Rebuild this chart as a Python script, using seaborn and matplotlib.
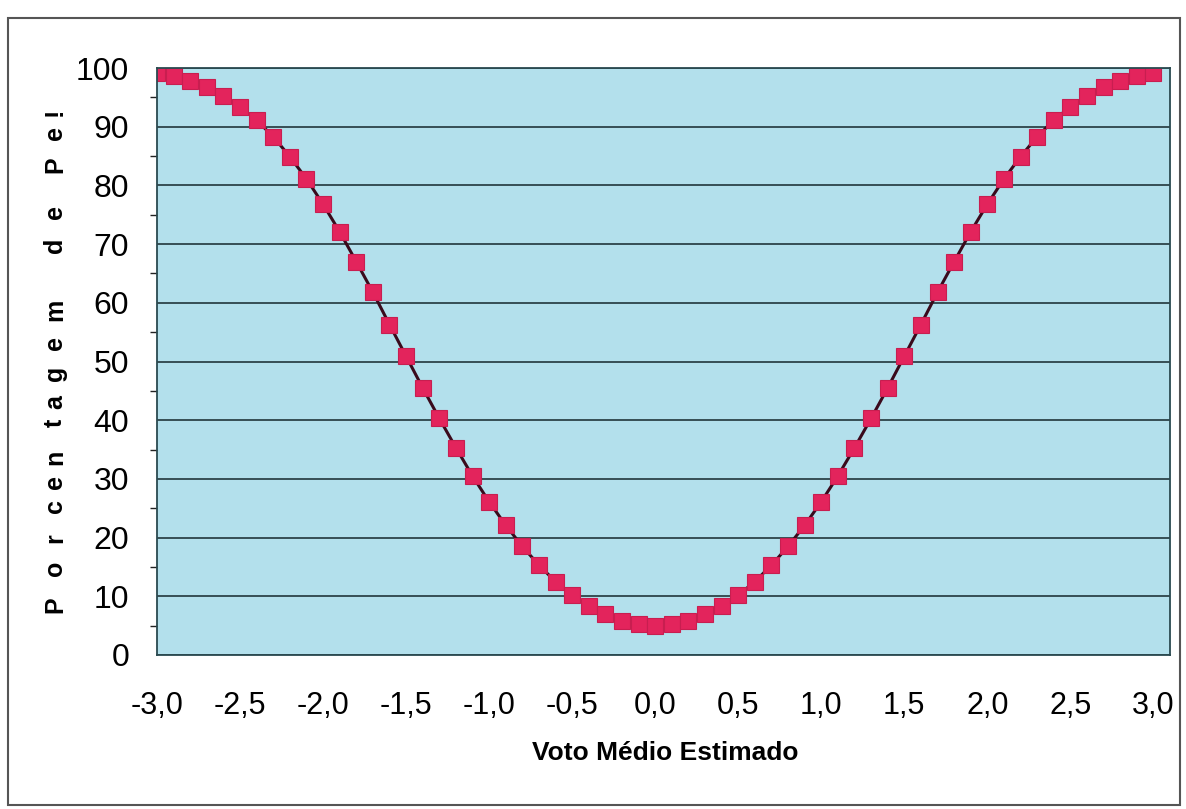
import matplotlib
matplotlib.use('Agg')
import matplotlib.pyplot as plt
import seaborn as sns
import numpy as np
import pandas as pd
from matplotlib.patches import Rectangle
from matplotlib.ticker import MultipleLocator

# voto medio estimado (PMV) e porcentagem de pessoas insatisfeitas (PPD)
voto = [-3.0, -2.9, -2.8, -2.7, -2.6, -2.5, -2.4, -2.3, -2.2, -2.1,
        -2.0, -1.9, -1.8, -1.7, -1.6, -1.5, -1.4, -1.3, -1.2, -1.1,
        -1.0, -0.9, -0.8, -0.7, -0.6, -0.5, -0.4, -0.3, -0.2, -0.1,
        0.0, 0.1, 0.2, 0.3, 0.4, 0.5, 0.6, 0.7, 0.8, 0.9,
        1.0, 1.1, 1.2, 1.3, 1.4, 1.5, 1.6, 1.7, 1.8, 1.9,
        2.0, 2.1, 2.2, 2.3, 2.4, 2.5, 2.6, 2.7, 2.8, 2.9, 3.0]
porcentagem = [99.1, 98.6, 97.8, 96.7, 95.3, 93.4, 91.1, 88.3, 84.9, 81.1,
               76.8, 72.1, 67.0, 61.8, 56.3, 50.9, 45.5, 40.3, 35.3, 30.5,
               26.1, 22.1, 18.5, 15.3, 12.5, 10.2, 8.3, 6.9, 5.8, 5.2,
               5.0, 5.2, 5.8, 6.9, 8.3, 10.2, 12.5, 15.3, 18.5, 22.1,
               26.1, 30.5, 35.3, 40.3, 45.5, 50.9, 56.3, 61.8, 67.0, 72.1,
               76.8, 81.1, 84.9, 88.3, 91.1, 93.4, 95.3, 96.7, 97.8, 98.6, 99.1]
xticks = [-3.0, -2.5, -2.0, -1.5, -1.0, -0.5, 0.0, 0.5, 1.0, 1.5, 2.0, 2.5, 3.0]
yticks = [0, 10, 20, 30, 40, 50, 60, 70, 80, 90, 100]
ylabel_letras = list('PorcentagemdePe!')

df = pd.DataFrame({'voto': voto, 'ppd': porcentagem})

sns.set_style('white')
plt.rcParams['font.family'] = ['Liberation Sans', 'DejaVu Sans']
plt.rcParams['text.color'] = 'black'

W, H = 1186, 809
fig = plt.figure(figsize=(W / 100, H / 100), dpi=100)
ax = fig.add_axes([157 / W, 1 - 655 / H, (1170 - 157) / W, (655 - 68) / H])

# moldura externa
fig.patches.append(Rectangle((8 / W, 1 - 805 / H), (1180 - 8) / W, (805 - 18) / H,
                             transform=fig.transFigure, fill=False,
                             edgecolor='#555555', linewidth=1.5))

ax.set_facecolor('#b3e0ec')
sns.lineplot(data=df, x='voto', y='ppd', ax=ax, color='#3a0a1c', linewidth=2.2,
             marker='s', markersize=11, markerfacecolor='#e3245c',
             markeredgecolor='#c81e50', markeredgewidth=0.8)

ax.set_xlim(-3.0, 3.1)
ax.set_ylim(0, 100)
ax.set_xticks(xticks)
ax.set_xticklabels([('%.1f' % v).replace('.', ',') for v in xticks], fontsize=22)
ax.set_yticks(yticks)
ax.set_yticklabels([str(v) for v in yticks], fontsize=23)
ax.yaxis.set_minor_locator(MultipleLocator(5))
ax.tick_params(axis='x', which='major', direction='out', length=10, width=1.5,
               pad=16, color='#222222', labelcolor='black')
ax.tick_params(axis='y', which='major', direction='out', length=8, width=1.2,
               pad=12, color='#222222', labelcolor='black')
ax.tick_params(axis='y', which='minor', direction='out', length=5, width=1.0,
               color='#222222', left=True)
ax.grid(axis='y', which='major', color='#14282c', linewidth=1.1)
ax.set_axisbelow(True)
for s in ax.spines.values():
    s.set_color('#2a4a50')
    s.set_linewidth(1.3)
ax.spines['top'].set_linestyle((0, (2, 1)))
ax.spines['right'].set_linestyle((0, (2, 1)))

ax.set_xlabel('')
ax.set_ylabel('')
fig.text(665 / W, 1 - 753 / H, 'Voto Médio Estimado', fontsize=19, fontweight='bold',
         ha='center', va='center', color='black')

# rotulo do eixo y com letras espacadas (posicao vertical de cada letra, em pixels)
ypix = [605, 568, 538, 506, 482, 457, 423, 402, 373, 343, 310, 245, 212, 165, 133, 112]
for letra, yp in zip(ylabel_letras, ypix):
    fig.text(55 / W, 1 - yp / H, letra, fontsize=18, fontweight='bold', rotation=90,
             ha='center', va='center', color='black')

plt.savefig('out.png', dpi=100)
